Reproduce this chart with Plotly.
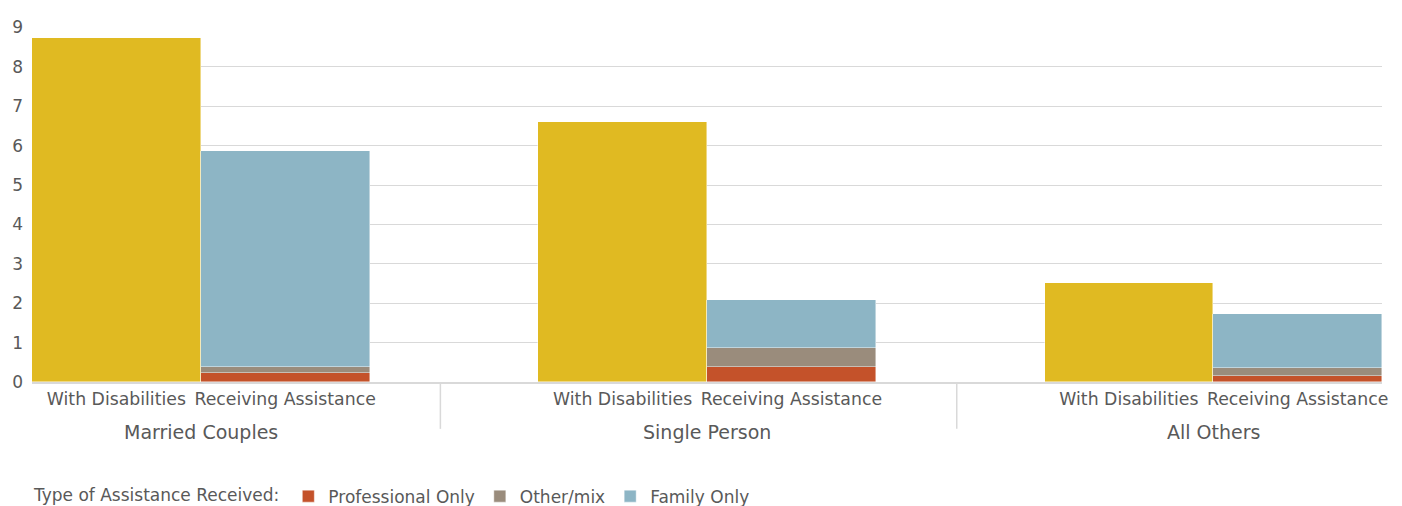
import plotly.graph_objects as go

# ---- data ----
groups = ["Married Couples", "Single Person", "All Others"]
bar_labels = ["With Disabilities", "Receiving Assistance"]
with_disabilities = [8.72, 6.59, 2.51]
professional_only = [0.23, 0.39, 0.16]
other_mix = [0.16, 0.47, 0.19]
family_only = [5.47, 1.21, 1.38]
y_ticks = [0, 1, 2, 3, 4, 5, 6, 7, 8, 9]

# slot positions (3 slots per group, last slot empty)
wd_x = [3 * i for i in range(len(groups))]
ra_x = [3 * i + 1 for i in range(len(groups))]
tick_vals = sorted(wd_x + ra_x)
tick_text = [bar_labels[0] if v % 3 == 0 else bar_labels[1] for v in tick_vals]

FONT = "DejaVu Sans, Liberation Sans, Arial, sans-serif"
TXT = "#595959"
LINE = "rgba(255,255,255,0.55)"

fig = go.Figure()
fig.add_trace(go.Bar(x=wd_x, y=with_disabilities, width=1, name="With Disabilities",
                     marker=dict(color="#E0BA22", line=dict(color=LINE, width=0.8)),
                     showlegend=False))
fig.add_trace(go.Bar(x=ra_x, y=professional_only, width=1, name="Professional Only",
                     marker=dict(color="#C4522A", line=dict(color=LINE, width=0.8))))
fig.add_trace(go.Bar(x=ra_x, y=other_mix, width=1, name="Other/mix",
                     marker=dict(color="#9A8C7C", line=dict(color=LINE, width=0.8))))
fig.add_trace(go.Bar(x=ra_x, y=family_only, width=1, name="Family Only",
                     marker=dict(color="#8DB5C5", line=dict(color=LINE, width=0.8))))

# group labels
for i, g in enumerate(groups):
    fig.add_annotation(x=3 * i + 0.5, y=0, xref="x", yref="paper", yanchor="top",
                       text=g, showarrow=False, yshift=-37,
                       font=dict(family=FONT, size=19, color=TXT))

# group dividers
for xd in [1.92, 4.98]:
    fig.add_shape(type="line", xref="x", yref="paper", x0=xd, x1=xd, y0=0, y1=-0.132,
                  line=dict(color="#D9D9D9", width=1.5))

fig.update_layout(
    width=1402, height=506,
    margin=dict(l=24, r=28, t=19, b=132, autoexpand=False),
    barmode="stack", bargap=0,
    plot_bgcolor="white", paper_bgcolor="white",
    font=dict(family=FONT, size=17, color=TXT),
    xaxis=dict(range=[-0.5, 7.5], tickmode="array", tickvals=tick_vals, ticktext=tick_text,
               tickangle=0,
               showgrid=False, zeroline=False, showline=True, linecolor="#D9D9D9", linewidth=1.5,
               ticks="", tickfont=dict(size=17.3, color=TXT), fixedrange=True),
    yaxis=dict(range=[0, 9.01], tickmode="array", tickvals=y_ticks, showgrid=True,
               gridcolor="#D9D9D9", gridwidth=1, zeroline=False, showline=False,
               ticks="", ticklabelstandoff=8, tickfont=dict(size=17, color=TXT), fixedrange=True),
    legend=dict(orientation="h", x=0, xanchor="left", xref="paper",
                y=0.07, yanchor="top", yref="container",
                title=dict(text="Type of Assistance Received:", side="left",
                           font=dict(family=FONT, size=17, color=TXT)),
                font=dict(family=FONT, size=17, color=TXT), itemwidth=30,
                traceorder="normal"),
)

fig.write_html("out.html")
